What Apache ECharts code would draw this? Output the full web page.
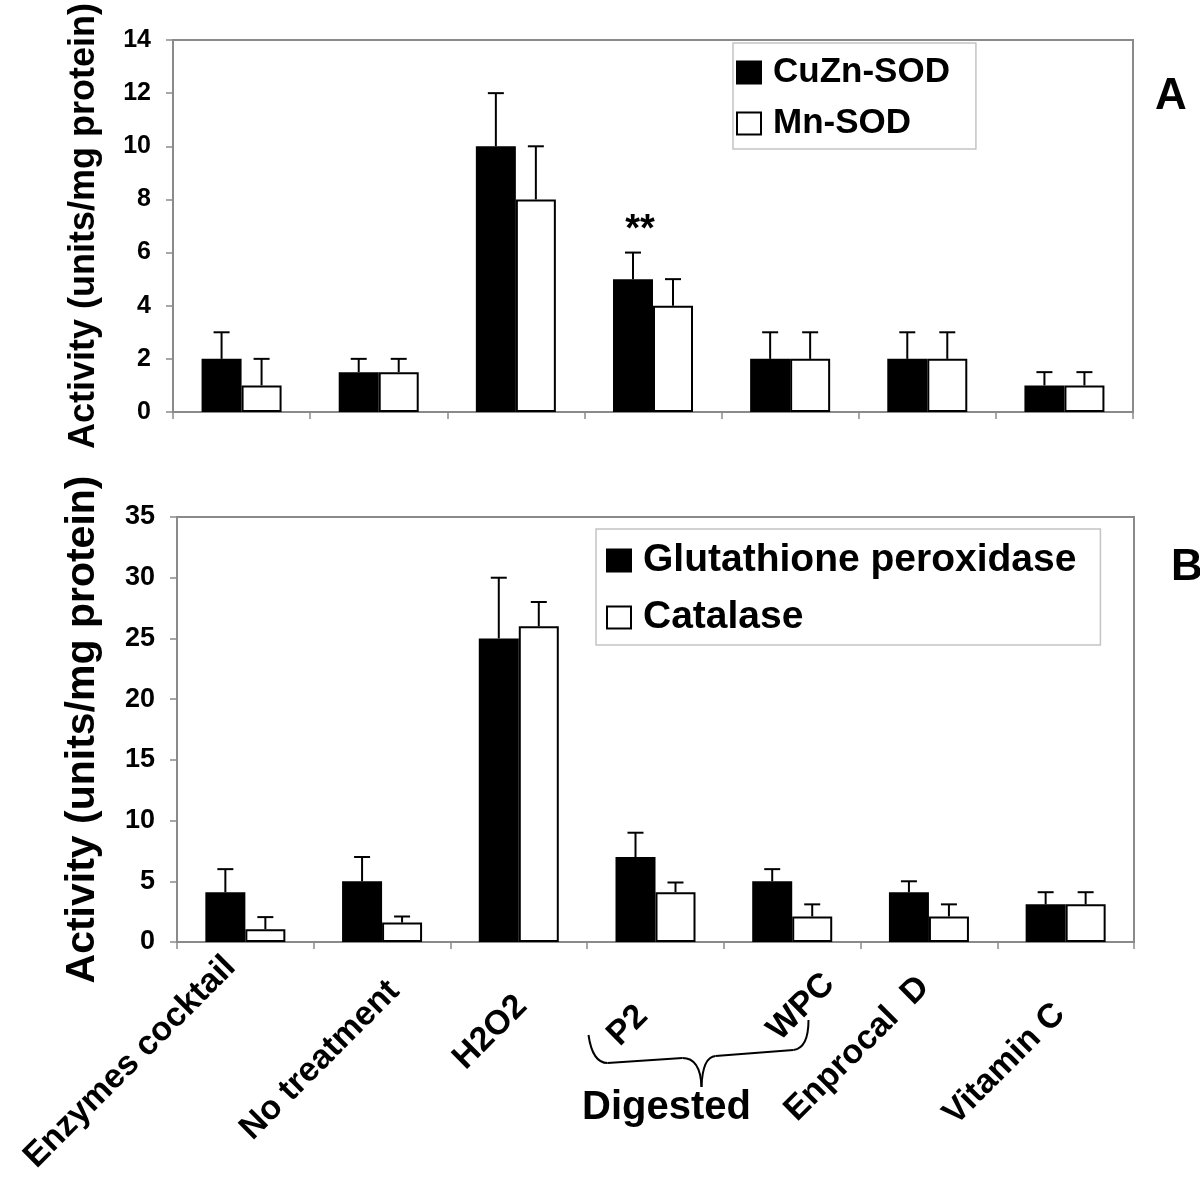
<!DOCTYPE html>
<html>
<head>
<meta charset="utf-8">
<script src="https://cdn.jsdelivr.net/npm/echarts@6/dist/echarts.min.js"></script>
<style>
  html, body { margin: 0; padding: 0; background: #fff; }
  #chart { width: 1200px; height: 1182px; }
</style>
</head>
<body>
<div id="chart"></div>
<script>
// treatments on the x axis (shared by both panels)
const categories = ['Enzymes cocktail', 'No treatment', 'H2O2', 'P2', 'WPC', 'Enprocal  D', 'Vitamin C'];

// panel A – SOD activity
const cuznSod    = [2, 1.5, 10, 5, 2, 2, 1];
const cuznSodErr = [1, 0.5, 2, 1, 1, 1, 0.5];
const mnSod      = [1, 1.5, 8, 4, 2, 2, 1];
const mnSodErr   = [1, 0.5, 2, 1, 1, 1, 0.5];
const sigMarks   = ['', '', '', '**', '', '', ''];

// panel B – GPx / catalase activity
const gpx         = [4.1, 5, 25, 7, 5, 4.1, 3.1];
const gpxErr      = [1.9, 2, 5, 2, 1, 0.9, 1];
const catalase    = [1.05, 1.6, 26, 4.1, 2.1, 2.1, 3.1];
const catalaseErr = [1, 0.5, 2, 0.8, 1, 1, 1];

const FONT = '"Liberation Sans", Arial, Helvetica, sans-serif';
const GRAY = '#8a8a8a';
const BAR_W = 40;

const chart = echarts.init(document.getElementById('chart'));

function barSeries(name, idx, data, fill) {
  return {
    name: name,
    type: 'bar',
    xAxisIndex: idx,
    yAxisIndex: idx,
    data: data,
    barWidth: BAR_W,
    barGap: '0%',
    itemStyle: { color: fill, borderColor: '#000', borderWidth: 2 },
    emphasis: { disabled: true },
    z: 2
  };
}

// one-sided (upper) error bars, with optional significance text above the cap
function errSeries(idx, vals, errs, slot, marks) {
  return {
    type: 'custom',
    xAxisIndex: idx,
    yAxisIndex: idx,
    z: 5,
    silent: true,
    data: vals.map((v, i) => [i, v, v + errs[i]]),
    renderItem: function (params, api) {
      const base = api.coord([api.value(0), api.value(1)]);
      const top = api.coord([api.value(0), api.value(2)]);
      const x = base[0] + slot * BAR_W;
      const ln = { stroke: '#000', lineWidth: 2 };
      const children = [
        { type: 'line', shape: { x1: x, y1: base[1], x2: x, y2: top[1] }, style: ln },
        { type: 'line', shape: { x1: x - 8, y1: top[1], x2: x + 8, y2: top[1] }, style: ln }
      ];
      const m = marks && marks[params.dataIndex];
      if (m) {
        children.push({
          type: 'text',
          x: x + 7,
          y: top[1] - 3,
          style: {
            text: m, fill: '#000', font: 'bold 38px ' + FONT,
            textAlign: 'center', textVerticalAlign: 'bottom',
            align: 'center', verticalAlign: 'bottom'
          }
        });
      }
      return { type: 'group', children: children };
    }
  };
}

function yAxis(idx, max, interval, labelSize, nameSize, nameGap) {
  return {
    type: 'value',
    gridIndex: idx,
    min: 0,
    max: max,
    interval: interval,
    name: 'Activity (units/mg protein)',
    nameLocation: 'middle',
    nameRotate: 90,
    nameGap: nameGap,
    nameTextStyle: { fontFamily: FONT, fontWeight: 'bold', fontSize: nameSize, color: '#000' },
    axisLine: { show: true, lineStyle: { color: GRAY, width: 2 } },
    axisTick: { show: true, length: 7, lineStyle: { color: GRAY, width: 1.5 } },
    axisLabel: { fontFamily: FONT, fontWeight: 'bold', fontSize: labelSize, color: '#000', margin: 22 },
    splitLine: { show: false }
  };
}

function xAxis(idx) {
  return {
    type: 'category',
    gridIndex: idx,
    data: categories,
    axisLine: { show: true, lineStyle: { color: GRAY, width: 2 } },
    axisTick: { show: true, length: 7, lineStyle: { color: GRAY, width: 1.5 } },
    axisLabel: { show: false }
  };
}

function legend(names, left, top, size, gap, pad) {
  return {
    data: names,
    orient: 'vertical',
    left: left,
    top: top,
    padding: pad,
    itemGap: gap,
    itemWidth: 24,
    itemHeight: 22,
    icon: 'rect',
    selectedMode: false,
    backgroundColor: '#fff',
    borderColor: '#c4c4c4',
    borderWidth: 1.5,
    textStyle: { fontFamily: FONT, fontWeight: 'bold', fontSize: size, color: '#000', padding: [0, 0, 0, 7] }
  };
}

chart.setOption({
  animation: false,
  backgroundColor: '#fff',
  grid: [
    { left: 173, top: 32, width: 960, height: 380, show: true, borderColor: GRAY, borderWidth: 2 },
    { left: 177, top: 517, width: 957, height: 425, show: true, borderColor: GRAY, borderWidth: 2 }
  ],
  xAxis: [xAxis(0), xAxis(1)],
  yAxis: [yAxis(0, 14, 2, 25, 36, 71), yAxis(1, 35, 5, 27, 41, 74)],
  legend: [
    legend(['CuZn-SOD', 'Mn-SOD'], 733, 43, 35, 16, [12, 26, 8, 3]),
    legend(['Glutathione peroxidase', 'Catalase'], 596, 529, 39, 18, [12, 24, 8, 10])
  ],
  series: [
    barSeries('CuZn-SOD', 0, cuznSod, '#000'),
    barSeries('Mn-SOD', 0, mnSod, '#fff'),
    errSeries(0, cuznSod, cuznSodErr, -0.5, sigMarks),
    errSeries(0, mnSod, mnSodErr, 0.5),
    barSeries('Glutathione peroxidase', 1, gpx, '#000'),
    barSeries('Catalase', 1, catalase, '#fff'),
    errSeries(1, gpx, gpxErr, -0.5),
    errSeries(1, catalase, catalaseErr, 0.5)
  ]
});

// rotated category labels under panel B, the "Digested" brace and the panel letters
const baseY = chart.convertToPixel({ yAxisIndex: 1 }, 0);
const catX = categories.map((c, i) => chart.convertToPixel({ xAxisIndex: 1 }, i));
const labelShift = [[-15, 20], [12, 44], [3, 59], [-13, 69], [37, 37], [-5, 40], [-6, 67]];

const graphics = categories.map((c, i) => ({
  type: 'text',
  x: catX[i] + labelShift[i][0],
  y: baseY + labelShift[i][1],
  rotation: Math.PI / 4,
  silent: true,
  style: {
    x: 0, y: 0, text: c, fill: '#000', font: 'bold 34px ' + FONT,
    textAlign: 'right', textVerticalAlign: 'middle'
  }
}));

// curly brace grouping P2 and WPC
const bx = catX[3], by = baseY;
const braceStyle = { fill: null, stroke: '#000', lineWidth: 2 };
function curve(a, c, b) {
  return {
    type: 'bezierCurve', silent: true, style: braceStyle,
    shape: { x1: bx + a[0], y1: by + a[1], cpx1: bx + c[0], cpy1: by + c[1], x2: bx + b[0], y2: by + b[1] }
  };
}
function seg(a, b) {
  return {
    type: 'line', silent: true, style: braceStyle,
    shape: { x1: bx + a[0], y1: by + a[1], x2: bx + b[0], y2: by + b[1] }
  };
}
graphics.push(
  curve([-67, 93], [-63, 121], [-48, 121]),
  seg([-48, 121], [27, 116]),
  curve([27, 116], [45, 116], [46, 145]),
  curve([46, 145], [47, 115], [60, 114]),
  seg([60, 114], [138, 108]),
  curve([138, 108], [153, 106], [153, 78])
);
graphics.push({
  type: 'text', x: bx + 11, y: by + 166, silent: true,
  style: { text: 'Digested', fill: '#000', font: 'bold 40px ' + FONT, textAlign: 'center', textVerticalAlign: 'middle' }
});
graphics.push({
  type: 'text', x: 1171, y: 97, silent: true,
  style: { text: 'A', fill: '#000', font: 'bold 44px ' + FONT, textAlign: 'center', textVerticalAlign: 'middle' }
});
graphics.push({
  type: 'text', x: 1187, y: 568, silent: true,
  style: { text: 'B', fill: '#000', font: 'bold 44px ' + FONT, textAlign: 'center', textVerticalAlign: 'middle' }
});

chart.setOption({ graphic: graphics });
</script>
</body>
</html>
